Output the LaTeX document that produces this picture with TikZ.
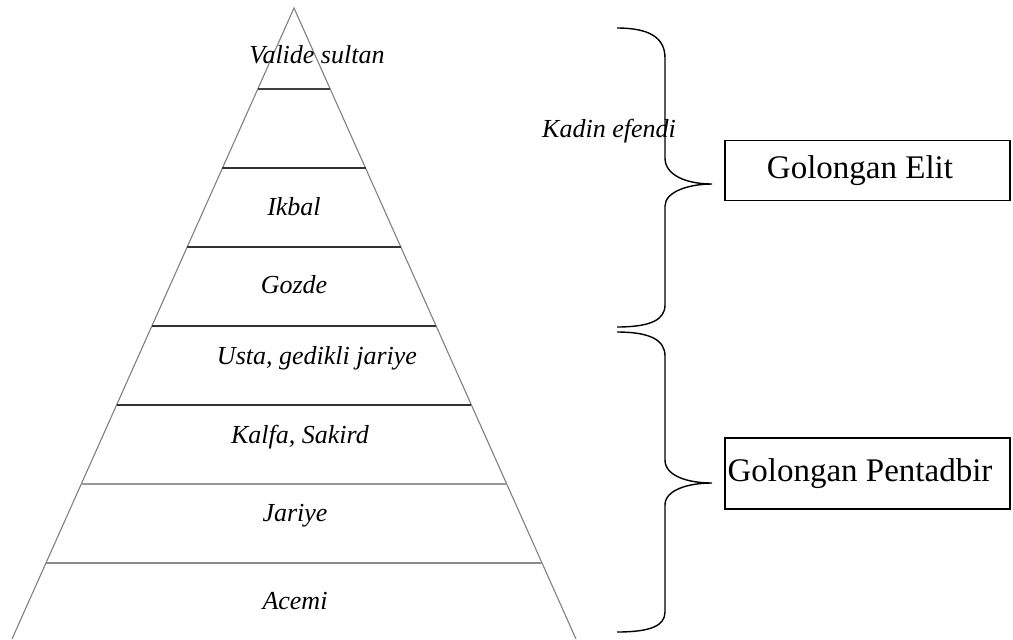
\documentclass[tikz,border=0pt]{standalone}
\usepackage{fontspec}
\setmainfont{Liberation Serif}
\usetikzlibrary{calc}
\tikzset{
  lapis/.style={font=\fontsize{13}{15}\selectfont\itshape},
  golongan/.style={draw, line width=0.8pt, minimum width=142.5pt, minimum height=30pt, inner sep=0pt},
  judul/.style={font=\fontsize{16.5}{19}\selectfont},
  kurung/.style={line width=0.7pt}
}

\begin{document}
\begin{tikzpicture}[x=0.5pt, y=-0.5pt]
	\useasboundingbox (0,0) rectangle (1013,639);

	% piramid
	\coordinate (apex) at (294,8);
	\coordinate (bl) at (12,639);
	\coordinate (br) at (576,639);
	\draw [black!50, line width=0.55pt] (bl) -- (apex) -- (br);
	\foreach \y/\c in {89/75,168/80,247/80,326/80,405/80,484/40,563/45}
		\draw [black!\c, line width=0.6pt] ($(apex)!{(\y-8)/631}!(bl)$) -- ($(apex)!{(\y-8)/631}!(br)$);

	\node [lapis] (valide) at (317,55) {Valide sultan};
	\node [lapis] (ikbal) at (294,207) {Ikbal};
	\node [lapis] (gozde) at (294,285) {Gozde};
	\node [lapis] (usta) at (317,358) {Usta, gedikli jariye};
	\node [lapis] (kalfa) at (300,437) {Kalfa, Sakird};
	\node [lapis] (jariye) at (295,516) {Jariye};
	\node [lapis] (acemi) at (295,601) {Acemi};
	\node [lapis] (kadin) at (609,131) {Kadin efendi};

	% kurung
	\draw [kurung] (617,28) .. controls (650,28) and (665,38) .. (665,58) -- (665,158)
		.. controls (665,176) and (688,184) .. (712,184)
		.. controls (688,184) and (665,192) .. (665,206) -- (665,305)
		.. controls (665,320) and (650,327) .. (617,327);
	\draw [kurung] (617,332) .. controls (650,332) and (665,340) .. (665,356) -- (665,460)
		.. controls (665,476) and (688,483) .. (712,483)
		.. controls (688,483) and (665,490) .. (665,505) -- (665,612)
		.. controls (665,626) and (650,632) .. (617,632);

	\node [golongan] (elit) at (867.5,170.5) {};
	\node [judul] (elitteks) at ([xshift=-3.75pt]elit.center) {Golongan Elit};
	\node [golongan, minimum height=35.5pt] (pentadbir) at (867.5,473.5) {};
	\node [judul] (pentadbirteks) at ([xshift=-3.75pt]pentadbir.center) {Golongan Pentadbir};

\end{tikzpicture}
\end{document}
